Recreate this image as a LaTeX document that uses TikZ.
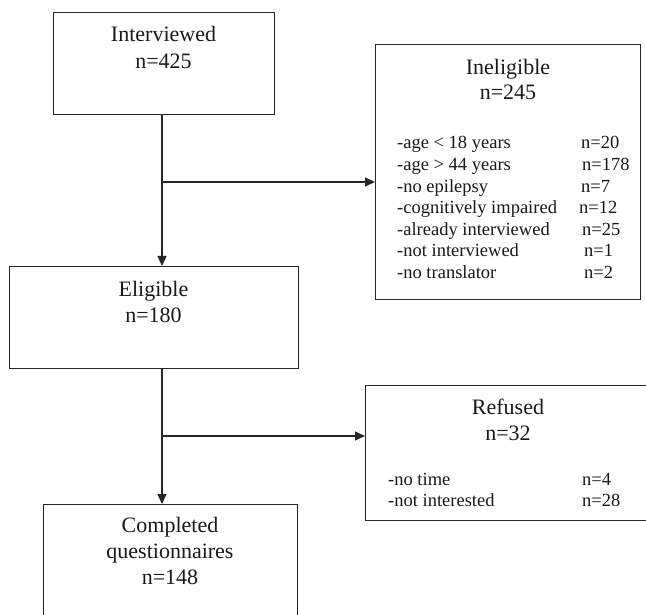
\documentclass[tikz,border=0pt]{standalone}
\usepackage{fontspec}
\setmainfont{Liberation Serif}
\usetikzlibrary{arrows.meta}
\begin{document}
\begin{tikzpicture}[x=1pt,y=-1pt,
  box/.style={draw=black!85, line width=1.2pt, rectangle, inner sep=0pt, anchor=north west},
  ttl/.style={font=\fontsize{22}{26}\selectfont, inner sep=0pt, anchor=base, text=black!90},
  item/.style={font=\fontsize{18.5}{22}\selectfont, inner sep=0pt, anchor=base west, text=black!90},
  conn/.style={draw=black!85, line width=1.2pt},
  arr/.style={conn, -{Triangle[length=10pt,width=9pt]}}]
\clip (0,0) rectangle (646,615);
\fill[white] (0,0) rectangle (646,615);

% boxes
\node[box, minimum width=221pt, minimum height=102pt] (intv) at (53,12) {};
\node[box, minimum width=289pt, minimum height=102pt] (elig) at (9,266) {};
\node[box, minimum width=254pt, minimum height=160pt] (comp) at (43,504) {};
\node[box, minimum width=265pt, minimum height=255pt] (inel) at (375,44) {};
\node[box, minimum width=290pt, minimum height=135pt] (refu) at (365,385) {};

% titles
\node[ttl] (t1a) at (163.5,42) {Interviewed};
\node[ttl] (t1b) at (163.5,69) {n=425};
\node[ttl] (t2a) at (153.5,296) {Eligible};
\node[ttl] (t2b) at (153.5,322) {n=180};
\node[ttl] (t3a) at (170,532) {Completed};
\node[ttl] (t3b) at (170,558) {questionnaires};
\node[ttl] (t3c) at (170,584) {n=148};
\node[ttl] (t4a) at (508,75) {Ineligible};
\node[ttl] (t4b) at (508,100) {n=245};
\node[ttl] (t5a) at (508,414) {Refused};
\node[ttl] (t5b) at (508,440) {n=32};

% ineligible list
\node[item] (i1) at (397,149.0) {-age < 18 years};
\node[item] (i2) at (397,170.6) {-age > 44 years};
\node[item] (i3) at (397,192.2) {-no epilepsy};
\node[item] (i4) at (397,213.8) {-cognitively impaired};
\node[item] (i5) at (397,235.4) {-already interviewed};
\node[item] (i6) at (397,257.0) {-not interviewed};
\node[item] (i7) at (397,278.6) {-no translator};
\node[item] (n1) at (581,149.0) {n=20};
\node[item] (n2) at (582,170.6) {n=178};
\node[item] (n3) at (581,192.2) {n=7};
\node[item] (n4) at (579,213.8) {n=12};
\node[item] (n5) at (582,235.4) {n=25};
\node[item] (n6) at (584,257.0) {n=1};
\node[item] (n7) at (584,278.6) {n=2};

% refused list
\node[item] (r1) at (388,485) {-no time};
\node[item] (r2) at (388,506) {-not interested};
\node[item] (m1) at (582,485) {n=4};
\node[item] (m2) at (582,506) {n=28};

% connectors
\coordinate (j1) at (162,182);
\coordinate (j2) at (162,436);
\draw[arr] (intv.south -| j1) -- (elig.north -| j1);
\draw[arr] (j1) -- (j1 -| inel.west);
\draw[arr] (elig.south -| j2) -- (comp.north -| j2);
\draw[arr] (j2) -- (j2 -| refu.west);
\end{tikzpicture}
\end{document}
